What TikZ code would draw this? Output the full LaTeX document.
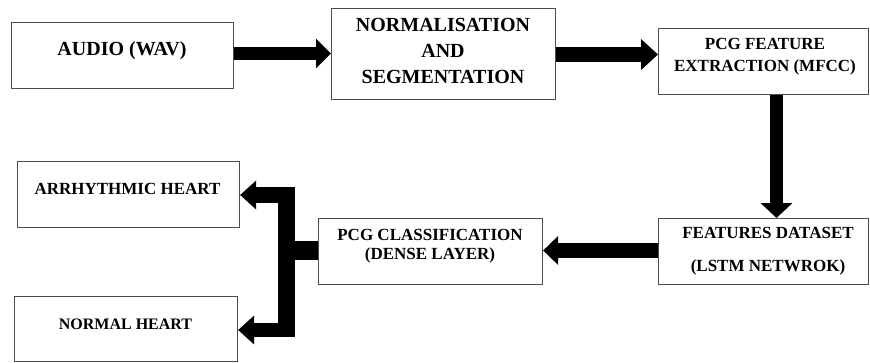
\documentclass[tikz,border=0pt]{standalone}
\usepackage{fontspec}
\setmainfont{Liberation Serif}
\usetikzlibrary{arrows.meta}
\begin{document}
\begin{tikzpicture}[x=1pt,y=-1pt,
  box/.style={draw=black!70,line width=1.1pt,rectangle,inner sep=0pt,anchor=north west},
  lbl/.style={font=\bfseries\fontsize{17}{20}\selectfont,align=center,inner sep=0pt,text=black},
  big/.style={font=\bfseries\fontsize{20}{26}\selectfont},
  fat/.style={line width=#1,-{Triangle[width=29pt,length=15pt]}},
  fat/.default=13pt]
\useasboundingbox (0,0) rectangle (870,362);
% boxes
\node[box,minimum width=222pt,minimum height=66pt] (aud) at (11,22) {};
\node[box,minimum width=224pt,minimum height=91pt] (norm) at (331,8) {};
\node[box,minimum width=210pt,minimum height=66pt] (feat) at (658,28) {};
\node[box,minimum width=210pt,minimum height=66pt] (ds) at (658,218) {};
\node[box,minimum width=224pt,minimum height=66pt] (cls) at (318,218) {};
\node[box,minimum width=222pt,minimum height=66pt] (arr) at (17,161) {};
\node[box,minimum width=223pt,minimum height=65pt] (nor) at (14,296) {};
% labels
\node[lbl,big] (audt) at (122,51) {AUDIO (WAV)};
\node[lbl,big] (normt) at (443,51) {NORMALISATION\\AND\\SEGMENTATION};
\node[lbl,font=\bfseries\fontsize{17}{22}\selectfont] (featt) at (765,57) {PCG FEATURE\\EXTRACTION (MFCC)};
\node[lbl,font=\bfseries\fontsize{17}{33}\selectfont] (dst) at (768,251) {FEATURES DATASET\\(LSTM NETWROK)};
\node[lbl,font=\bfseries\fontsize{17}{19}\selectfont] (clst) at (430,246) {PCG CLASSIFICATION\\(DENSE LAYER)};
\node[lbl] (arrt) at (127.5,189) {ARRHYTHMIC HEART};
\node[lbl,font=\bfseries\fontsize{16}{19}\selectfont] (nort) at (125.5,324) {NORMAL HEART};
% arrows
\draw[line width=13pt,-{Triangle[width=29pt,length=15pt]}] (aud.east |- 0,53.5) -- (norm.west |- 0,53.5);
\draw[line width=15pt,-{Triangle[width=30pt,length=17pt]}] (norm.east |- 0,54.5) -- (feat.west |- 0,54.5);
\draw[line width=13pt,-{Triangle[width=31pt,length=15pt]}] (feat.south -| 776.5,0) -- (ds.north -| 776.5,0);
\draw[line width=15pt,-{Triangle[width=28pt,length=15pt]}] (ds.west |- 0,250.5) -- (cls.east |- 0,250.5);
% branch
\coordinate (jn) at (286.5,250.5);
\coordinate (jt) at (286.5,187);
\coordinate (jb) at (286.5,337);
\coordinate (tt) at (295,195);
\coordinate (bb) at (295,330);
\draw[line width=19pt] (cls.west |- jn) -- (jn);
\draw[line width=17pt] (jt) -- (jb);
\draw[line width=16pt,-{Triangle[width=28pt,length=16pt]}] (tt) -- (arr.east |- tt);
\draw[line width=14pt,-{Triangle[width=28pt,length=16pt]}] (bb) -- (nor.east |- bb);
\end{tikzpicture}
\end{document}
